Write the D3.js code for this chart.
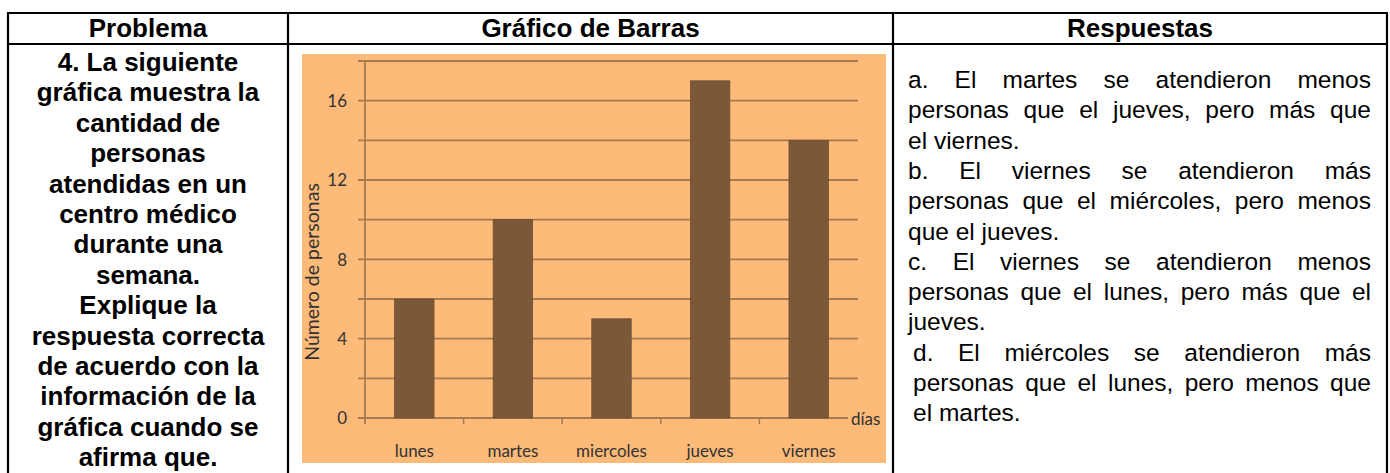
<!DOCTYPE html>
<html>
<head>
<meta charset="utf-8">
<script src="https://cdn.jsdelivr.net/npm/d3@7"></script>
<style>
  body { margin: 0; background: #fff; }
</style>
</head>
<body>
<div id="chart"></div>
<script>
// chart data
const days = ["lunes", "martes", "miercoles", "jueves", "viernes"];
const people = [6, 10, 5, 17, 14];
const yLabelTicks = [0, 4, 8, 12, 16];
const gridTicks = [0, 2, 4, 6, 8, 10, 12, 14, 16, 18];

// table texts
const headers = ["Problema", "Gráfico de Barras", "Respuestas"];
const problemLines = [
  "4. La siguiente", "gráfica muestra la", "cantidad de", "personas",
  "atendidas en un", "centro médico", "durante una", "semana.",
  "Explique la", "respuesta correcta", "de acuerdo con la",
  "información de la", "gráfica cuando se", "afirma que."
];
// [text, justified, indent]
const answerLines = [
  ["a. El martes se atendieron menos", true, 0],
  ["personas que el jueves, pero más que", true, 0],
  ["el viernes.", false, 0],
  ["b. El viernes se atendieron más", true, 0],
  ["personas que el miércoles, pero menos", true, 0],
  ["que el jueves.", false, 0],
  ["c. El viernes se atendieron menos", true, 0],
  ["personas que el lunes, pero más que el", true, 0],
  ["jueves.", false, 0],
  ["d. El miércoles se atendieron más", true, 5],
  ["personas que el lunes, pero menos que", true, 5],
  ["el martes.", false, 5]
];

const W = 1390, H = 473;
const svg = d3.select("#chart").append("svg")
  .attr("width", W).attr("height", H);

svg.append("rect").attr("width", W).attr("height", H).attr("fill", "#fff");

// ---- table frame ----
const colX = [8, 288, 893, 1387];
const topY = 13, headY = 44;
const frame = svg.append("g").attr("stroke", "#000").attr("stroke-width", 2.2);
frame.append("line").attr("x1", colX[0] - 1).attr("x2", colX[3] + 1).attr("y1", topY).attr("y2", topY);
frame.append("line").attr("x1", colX[0] - 1).attr("x2", colX[3] + 1).attr("y1", headY).attr("y2", headY);
colX.forEach(x => frame.append("line").attr("x1", x).attr("x2", x).attr("y1", topY).attr("y2", H));

const tableFont = "Liberation Sans, Arial, sans-serif";

headers.forEach((h, i) => {
  const cx = (colX[i] + colX[i + 1]) / 2;
  svg.append("text")
    .attr("x", cx).attr("y", 37)
    .attr("text-anchor", "middle")
    .attr("font-family", tableFont)
    .attr("font-weight", "bold")
    .attr("font-size", 26)
    .text(h);
});

// problem column
svg.append("g")
  .selectAll("text")
  .data(problemLines)
  .join("text")
  .attr("x", 148)
  .attr("y", (d, i) => 71 + i * 30.4)
  .attr("text-anchor", "middle")
  .attr("font-family", tableFont)
  .attr("font-weight", "bold")
  .attr("font-size", 26)
  .text(d => d);

// answers column, justified word by word
const aSize = 24.5, aLeft = 908, aRight = 1371;
answerLines.forEach(([t, just, indent], i) => {
  const g = svg.append("g")
    .attr("transform", `translate(${aLeft + indent},${88 + i * 30.3})`)
    .attr("font-family", tableFont)
    .attr("font-size", aSize)
    .attr("fill", "#000");
  const words = t.split(" ");
  const nodes = words.map(w => g.append("text").text(w));
  const widths = nodes.map(n => n.node().getComputedTextLength());
  const total = d3.sum(widths);
  const avail = aRight - aLeft - indent;
  const gap = just && words.length > 1 ? (avail - total) / (words.length - 1) : aSize * 0.278;
  let x = 0;
  nodes.forEach((n, k) => { n.attr("x", x); x += widths[k] + gap; });
});

// ---- bar chart ----
const panel = { x: 302, y: 54, w: 584, h: 409 };
svg.append("rect")
  .attr("x", panel.x).attr("y", panel.y)
  .attr("width", panel.w).attr("height", panel.h)
  .attr("fill", "#FDBA78");

const x = d3.scaleBand().domain(days).range([365, 858])
  .paddingInner(0.6).paddingOuter(0.3);
const y = d3.scaleLinear().domain([0, 18]).range([418, 61]);

const lineColor = "#A57B50";
const chartFont = "Lato, 'Open Sans', sans-serif";

svg.append("g")
  .selectAll("line")
  .data(gridTicks)
  .join("line")
  .attr("x1", 358).attr("x2", 858)
  .attr("y1", d => y(d)).attr("y2", d => y(d))
  .attr("stroke", lineColor).attr("stroke-width", 1.8);

svg.append("g")
  .selectAll("rect")
  .data(people)
  .join("rect")
  .attr("x", (d, i) => x(days[i]))
  .attr("y", d => y(d))
  .attr("width", x.bandwidth())
  .attr("height", d => y(0) - y(d))
  .attr("fill", "#7A5838")
  .attr("stroke", "#6E4F33")
  .attr("stroke-width", 0.8);

// y axis
svg.append("line")
  .attr("x1", 365).attr("x2", 365)
  .attr("y1", y(18)).attr("y2", y(0) + 6)
  .attr("stroke", lineColor).attr("stroke-width", 1.8);

const yAxis = svg.append("g")
  .attr("transform", "translate(347,0)")
  .call(d3.axisLeft(y).tickValues(yLabelTicks).tickSize(0).tickPadding(0));
yAxis.select(".domain").remove();
yAxis.selectAll("text")
  .attr("font-family", chartFont).attr("font-size", 17).attr("fill", "#333")
  .attr("dy", "0.35em");

// x axis ticks between categories
const bounds = days.map(d => x(d) - x.step() * x.paddingInner() / 2).slice(1);
svg.append("g")
  .selectAll("line")
  .data(bounds)
  .join("line")
  .attr("x1", d => d).attr("x2", d => d)
  .attr("y1", y(0)).attr("y2", y(0) + 6)
  .attr("stroke", lineColor).attr("stroke-width", 1.5);

const xAxis = svg.append("g")
  .attr("transform", "translate(0,445)")
  .call(d3.axisBottom(x).tickSize(0).tickPadding(0));
xAxis.select(".domain").remove();
xAxis.selectAll("text")
  .attr("font-family", chartFont).attr("font-size", 17).attr("fill", "#333");

// axis titles
svg.append("text")
  .attr("transform", "translate(319,272) rotate(-90)")
  .attr("text-anchor", "middle")
  .attr("font-family", chartFont).attr("font-size", 19.5).attr("fill", "#333")
  .text("Número de personas");

svg.append("rect")
  .attr("x", 848).attr("y", 408).attr("width", 36).attr("height", 22)
  .attr("fill", "#FDBA78");
svg.append("text")
  .attr("x", 851).attr("y", 425)
  .attr("font-family", chartFont).attr("font-size", 17).attr("fill", "#333")
  .text("días");
</script>
</body>
</html>
